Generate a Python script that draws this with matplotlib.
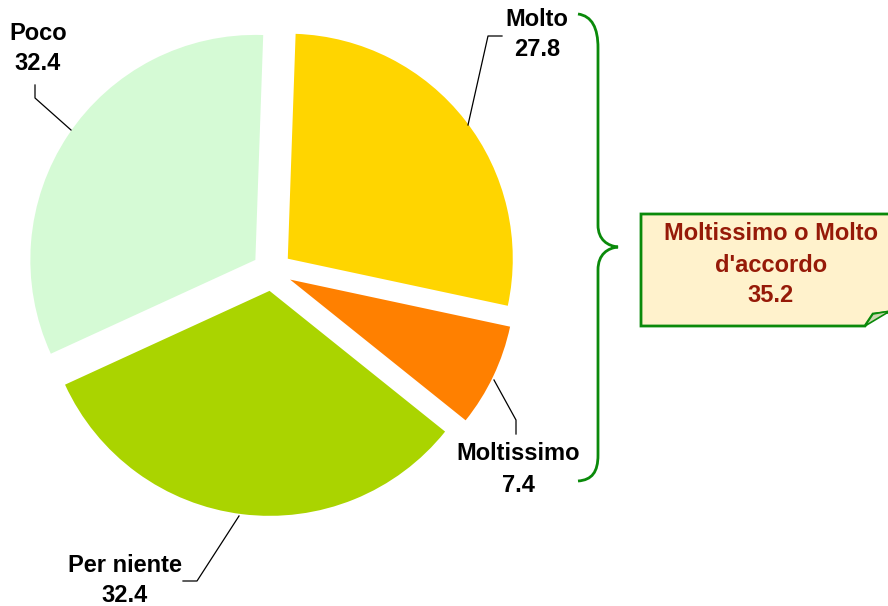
import matplotlib
matplotlib.use("Agg")
import matplotlib.pyplot as plt
from matplotlib.patches import Polygon, PathPatch
from matplotlib.path import Path

categories = ["Molto", "Moltissimo", "Per niente", "Poco"]
values = [27.8, 7.4, 32.4, 32.4]
colors = ["#FFD500", "#FF8000", "#AAD400", "#D5FAD5"]
summary_label = "Moltissimo o Molto\nd'accordo"
summary_value = 35.2

W, H = 888, 606
fig = plt.figure(figsize=(W / 100, H / 100), dpi=100)
ax = fig.add_axes([0, 0, 1, 1])

def Y(y):
    return H - y

cx, cy, r = 272, 271, 225
ax.pie(values, colors=colors, startangle=88, counterclock=False,
       center=(cx, Y(cy)), radius=r, explode=[20] * 4,
       wedgeprops=dict(linewidth=0), frame=True)
ax.set_xlim(0, W)
ax.set_ylim(0, H)
ax.set_aspect("equal")
ax.axis("off")

font = dict(family=["Liberation Sans", "DejaVu Sans"], fontweight="bold",
            fontsize=17, color="black", ha="center", va="center")

# labels: (text x, name y, value y) and leader line points
labels = {
    "Poco": ((38, 34, 63), [(35, 85), (35, 98), (71, 130)]),
    "Molto": ((537, 20, 50), [(502, 36), (488, 36), (468, 125)]),
    "Moltissimo": ((518, 453, 485), [(516, 434), (516, 420), (494, 380)]),
    "Per niente": ((125, 566, 596), [(183, 581), (197, 581), (239, 516)]),
}
for cat, val in zip(categories, values):
    (tx, ny, vy), pts = labels[cat]
    ax.text(tx, Y(ny), cat, **font)
    ax.text(tx, Y(vy), f"{val:.1f}", **font)
    ax.plot([p[0] for p in pts], [Y(p[1]) for p in pts], color="black", lw=0.9)

# curly brace
green = "#0A8A0A"
verts = [
    (578, 14), (592, 16), (598, 28), (598, 48),
    (598, 225),
    (598, 240), (608, 246), (618, 247),
    (608, 248), (598, 254), (598, 270),
    (598, 455),
    (598, 472), (592, 480), (578, 481),
]
codes = [Path.MOVETO, Path.CURVE4, Path.CURVE4, Path.CURVE4,
         Path.LINETO,
         Path.CURVE4, Path.CURVE4, Path.CURVE4,
         Path.CURVE4, Path.CURVE4, Path.CURVE4,
         Path.LINETO,
         Path.CURVE4, Path.CURVE4, Path.CURVE4]
ax.add_patch(PathPatch(Path([(x, Y(y)) for x, y in verts], codes),
                       fill=False, edgecolor=green, lw=2))

# summary box with folded corner
box = [(641, 214), (900, 214), (900, 311), (873, 314), (865, 326), (641, 326)]
ax.add_patch(Polygon([(x, Y(y)) for x, y in box], closed=True,
                     facecolor="#FFF2CC", edgecolor=green, lw=2, clip_on=True))
fold = [(865, 326), (873, 314), (890, 311)]
ax.add_patch(Polygon([(x, Y(y)) for x, y in fold], closed=True,
                     facecolor="#CDD6B0", edgecolor=green, lw=1.2))

bfont = dict(font)
bfont["color"] = "#961A08"
lines = summary_label.split("\n") + [f"{summary_value:.1f}"]
for txt, y in zip(lines, [234, 266, 296]):
    ax.text(771, Y(y), txt, **bfont)

fig.savefig("out.png", dpi=100)
